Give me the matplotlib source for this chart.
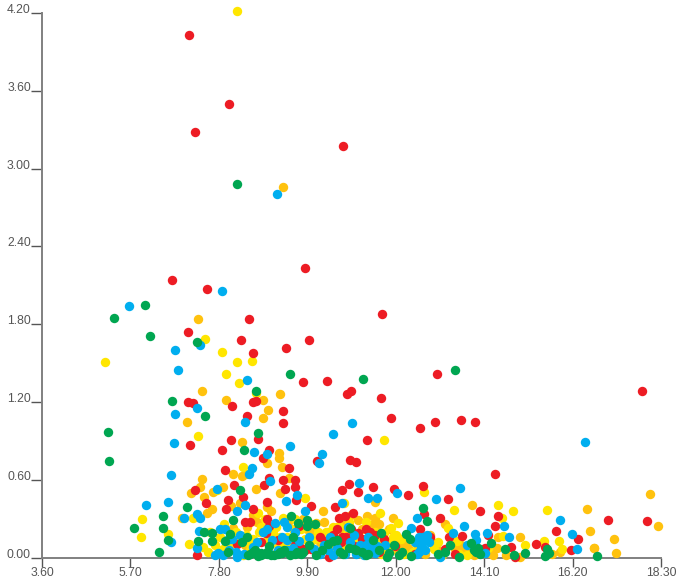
import matplotlib; matplotlib.use("Agg")
import matplotlib.pyplot as plt

amber_x = [7.3,7.4,9.32,9.25,7.97,8.85,7.04,8.97,8.85,8.35,9.23,9.23,8.94,9.3,8.14,8.35,8.45,7.4,7.35,7.14,7.45,7.66,7.9,8.68,9.25,9.47,8.3,8.09,7.64,7.52,8.94,10.27,6.93,8.71,8.47,8.14,8.42,10.04,10.37,18.04,16.54,13.81,18.23,17.18,16.62,17.23,16.71,14.95,15.9,11.93,11.32,11.51,11.1,13.17,12.82,12.29,11.46,14.43,14.3,13.65,14.62,14.95,12.93,11.51,9.6,9.9,10.2,10.5,10.8,11.0,11.2,11.4,11.7,12.0,12.2,12.5,12.7,13.0,13.3,13.5,13.9,14.1,10.3,10.7,8.8,9.1,15.7,16.7,
           9.8,10.1,10.4,10.6,10.9,11.1,11.3,11.6,11.85,12.05,12.15,12.25,12.35,12.9,13.1,13.4,13.6,13.75,14.0,14.25,14.4,8.6,9.05,9.45,10.0,10.45,10.95,11.55,12.1,12.3,13.55,13.85]
amber_y = [1.84,1.29,2.86,1.26,1.22,1.22,1.05,1.14,1.08,.89,.81,.77,.73,.70,.65,.63,.65,.61,.55,.50,.47,.51,.55,.53,.50,.62,.42,.40,.38,.35,.39,.36,.31,.28,.24,.23,.10,.20,.08,.49,.38,.41,.25,.15,.21,.04,.08,.16,.05,.31,.32,.31,.29,.26,.18,.08,.26,.16,.02,.06,.02,.01,.115,.43,.2,.22,.12,.18,.2,.14,.22,.1,.05,.08,.12,.1,.03,.06,.1,.04,.03,.05,.28,.26,.22,.12,.03,.08,
           .3,.27,.2,.24,.25,.18,.15,.26,.22,.05,.1,.14,.04,.08,.02,.07,.03,.09,.06,.04,.08,.33,.36,.28,.13,.1,.33,.2,.13,.06,.1,.02]

yellow_x = [8.23,5.1,7.47,7.88,8.23,8.59,8.28,7.97,8.68,7.31,8.37,7.76,9.85,8.73,5.97,5.95,6.59,7.19,7.09,7.92,9.32,7.42,7.83,8.61,9.09,8.37,9.42,9.85,10.25,10.51,10.6,11.72,12.67,13.38,14.43,14.79,15.59,11.63,14.52,13.24,14.55,15.07,15.52,15.88,13.46,11.89,11.94,11.63,12.12,11.3,10.77,11.75,8.0,8.2,8.5,8.8,9.0,9.2,9.6,10.0,10.3,10.8,11.0,11.2,11.5,11.8,12.4,12.9,13.1,13.7,14.2,7.6,7.55,8.9,9.7,15.95,
            7.7,7.9,8.1,8.3,8.45,8.75,8.95,9.15,9.3,9.5,9.75,9.95,10.15,10.4,10.65,10.9,11.1,11.4,11.65,11.7,11.72,11.9,12.0,12.05,12.2,13.0,13.5,8.55,9.25,9.55,10.05,10.35,10.75]
yellow_y = [4.21,1.51,1.69,1.59,1.51,1.52,1.35,1.42,1.27,.94,.70,.52,.46,.35,.30,.16,.185,.31,.11,.26,.31,.085,.16,.15,.19,.02,.16,.15,.14,.24,.06,.91,.51,.37,.41,.36,.37,.35,.31,.23,.17,.10,.13,.13,.13,.23,.16,.14,.15,.28,.42,.06,.08,.2,.12,.24,.05,.1,.3,.26,.08,.18,.1,.03,.2,.12,.05,.07,.03,.02,.08,.2,.05,.3,.08,.07,
            .1,.07,.11,.14,.18,.2,.14,.24,.09,.12,.22,.1,.2,.13,.25,.28,.16,.09,.03,.11,.19,.08,.18,.27,.03,.12,.03,.06,.16,.22,.15,.2,.1]

red_x = [7.09,8.04,7.23,10.75,9.85,6.69,7.52,8.52,7.07,8.33,9.94,8.61,9.39,11.68,9.8,10.37,10.94,10.84,11.65,12.98,17.85,7.07,7.19,8.11,8.47,8.61,8.68,9.32,9.32,7.12,8.09,7.88,8.73,8.99,8.85,10.13,7.95,9.47,8.99,9.32,9.61,8.87,8.16,9.61,9.37,7.23,8.02,8.37,10.72,7.49,7.97,8.61,8.94,9.63,9.99,10.56,8.42,8.54,8.94,8.99,10.65,9.70,10.6,8.23,8.92,7.28,9.85,10.42,10.72,11.89,12.58,12.93,13.55,13.88,11.32,10.92,11.06,14.36,10.89,11.46,11.1,11.96,12.29,12.65,13.24,14.0,12.67,13.05,14.43,14.36,17.04,17.97,15.81,16.33,16.16,15.33,15.54,14.74,14.19,14.12,13.58,13.27,12.81,12.58,11.98,10.98,10.8,11.1,11.3,11.5,11.72,10.82,13.17,14.83,
         9.6,9.75,10.0,10.2,10.35,10.5,10.7,10.95,11.2,11.4,11.0,11.6,12.45,13.4,9.2,8.8]
red_y = [4.03,3.50,3.28,3.17,2.23,2.14,2.07,1.84,1.74,1.68,1.68,1.58,1.62,1.88,1.355,1.36,1.29,1.26,1.23,1.42,1.29,1.20,1.19,1.17,1.09,1.20,1.21,1.13,1.04,.87,.91,.83,.92,.83,.77,.75,.68,.69,.62,.60,.60,.56,.56,.55,.53,.52,.45,.47,.52,.42,.38,.38,.43,.45,.40,.39,.28,.28,.30,.25,.31,.25,.22,.11,.19,.02,.06,.01,.16,1.08,1.00,1.05,1.06,1.05,.91,.755,.74,.65,.57,.55,.51,.53,.485,.555,.455,.36,.34,.31,.32,.25,.29,.285,.21,.15,.06,.11,.085,.085,.18,.08,.17,.16,.16,.22,.09,.35,.32,.19,.22,.18,.15,.16,.07,.01,
         .1,.08,.07,.16,.13,.18,.12,.22,.15,.2,.09,.05,.03,.03,.14,.12]

blue_x = [9.18,5.67,7.88,6.76,6.83,7.35,8.47,6.76,7.28,8.42,6.73,10.51,10.96,9.49,10.25,10.18,8.63,16.5,11.13,8.94,8.59,8.52,6.66,7.76,9.02,9.66,9.4,6.07,6.59,8.42,8.23,9.85,6.97,7.28,7.35,9.13,7.33,7.83,6.66,7.28,7.71,7.78,8.23,8.11,9.06,9.42,9.42,9.77,10.13,10.51,10.44,9.42,8.61,7.99,10.72,11.34,11.56,12.03,12.96,13.53,15.9,16.19,16.31,12.51,13.62,13.88,14.17,14.57,14.69,13.36,12.36,12.69,12.6,11.41,11.46,10.92,11.75,10.87,13.05,14.12,11.27,11.0,11.15,11.35,12.45,12.55,12.75,10.3,9.6,9.0,8.3,7.95,
          7.9,8.05,8.2,8.4,8.7,8.85,9.2,9.3,9.55,9.7,9.95,10.05,10.2,10.4,10.6,10.8,11.05,11.25,11.3,11.4,11.5,11.55,12.5,12.6,12.65,12.7,12.8,12.55,13.7,13.9,8.95,9.35]
blue_y = [2.80,1.94,2.06,1.60,1.45,1.64,1.37,1.11,1.155,1.05,.885,.955,1.04,.86,.80,.73,.82,.89,.58,.80,.69,.65,.64,.53,.59,.485,.44,.41,.43,.41,.36,.36,.31,.34,.31,.27,.21,.22,.12,.08,.02,.04,.01,.15,.14,.14,.24,.04,.05,.02,.16,.06,.085,.14,.42,.46,.46,.50,.455,.54,.29,.185,.07,.31,.25,.185,.19,.25,.16,.19,.23,.14,.08,.06,.115,.12,.10,.24,.01,.04,.05,.18,.1,.16,.12,.05,.18,.1,.2,.04,.18,.22,
          .02,.06,.05,.03,.12,.2,.06,.16,.08,.13,.16,.07,.03,.06,.08,.03,.03,.02,.1,.13,.04,.09,.03,.1,.16,.06,.12,.16,.1,.14,.22,.28]

green_x = [8.23,6.05,5.31,6.17,7.28,9.49,11.22,13.41,6.69,7.47,5.17,5.19,8.73,8.68,8.4,7.04,6.47,5.78,6.47,6.38,6.59,7.31,7.64,7.45,7.64,8.02,8.3,8.14,8.07,8.47,8.73,8.61,8.94,9.2,9.49,9.66,9.51,9.89,10.08,9.89,9.68,9.56,10.6,10.68,12.65,12.74,16.78,15.6,15.54,15.07,14.6,14.81,14.26,13.91,13.79,13.5,13.17,12.36,12.07,11.65,11.46,12.34,12.24,11.06,11.2,10.92,11.79,11.3,8.5,8.8,9.05,9.3,9.75,10.9,11.85,13.95,15.65,
           8.55,8.65,8.8,8.95,9.1,9.25,9.35,9.6,9.8,9.95,10.1,10.25,10.4,10.75,11.0,11.35,11.6,11.95,12.15,13.0,13.3,13.85,14.0,7.95,8.35,9.0,10.5]
green_y = [2.88,1.95,1.85,1.71,1.66,1.42,1.38,1.45,1.21,1.09,.97,.75,.96,1.29,.83,.39,.32,.23,.23,.05,.14,.13,.13,.20,.19,.05,.52,.29,.185,.16,.015,.05,.03,.03,.02,.05,.32,.29,.26,.25,.27,.16,.14,.05,.385,.285,.015,.07,.015,.04,.07,.02,.115,.05,.115,.01,.05,.015,.02,.19,.14,.15,.185,.06,.05,.23,.01,.02,.02,.04,.02,.04,.03,.08,.04,.08,.04,
           .03,.06,.02,.05,.02,.05,.06,.03,.05,.1,.02,.06,.11,.03,.07,.03,.06,.1,.05,.03,.1,.06,.03,.13,.12,.09,.13]

xticks = [3.6,5.7,7.8,9.9,12.0,14.1,16.2,18.3]
yticks = [0,0.6,1.2,1.8,2.4,3.0,3.6,4.2]

plt.rcParams["font.family"] = ["Liberation Sans", "DejaVu Sans"]
fig = plt.figure(figsize=(6.86, 5.82), dpi=100)
ax = fig.add_axes([42/686, 24/582, 619/686, 545.3/582])
series = [(amber_x, amber_y, "#FFC20E"), (yellow_x, yellow_y, "#FFE600"),
          (red_x, red_y, "#ED1C24"), (blue_x, blue_y, "#00AEEF"), (green_x, green_y, "#00A651")]
for xs, ys, c in series:
    ax.scatter(xs, ys, s=46, color=c, linewidths=0, clip_on=False, zorder=3)
ax.set_xlim(3.6, 18.3); ax.set_ylim(0, 4.2)
ax.set_xticks(xticks); ax.set_xticklabels([f"{v:.2f}" for v in xticks])
ax.set_yticks(yticks); ax.set_yticklabels([f"{v:.2f}" for v in yticks], va="baseline")
ax.tick_params(axis="x", length=6.5, width=1, color="#555555", labelcolor="#555555", labelsize=8.7, pad=0)
ax.tick_params(axis="y", length=8, width=1, color="#555555", labelcolor="#555555", labelsize=8.7, pad=0)
for s in ["top", "right"]:
    ax.spines[s].set_visible(False)
for s in ["left", "bottom"]:
    ax.spines[s].set_color("#808080"); ax.spines[s].set_linewidth(1.4)
fig.savefig("out.png", dpi=100)
